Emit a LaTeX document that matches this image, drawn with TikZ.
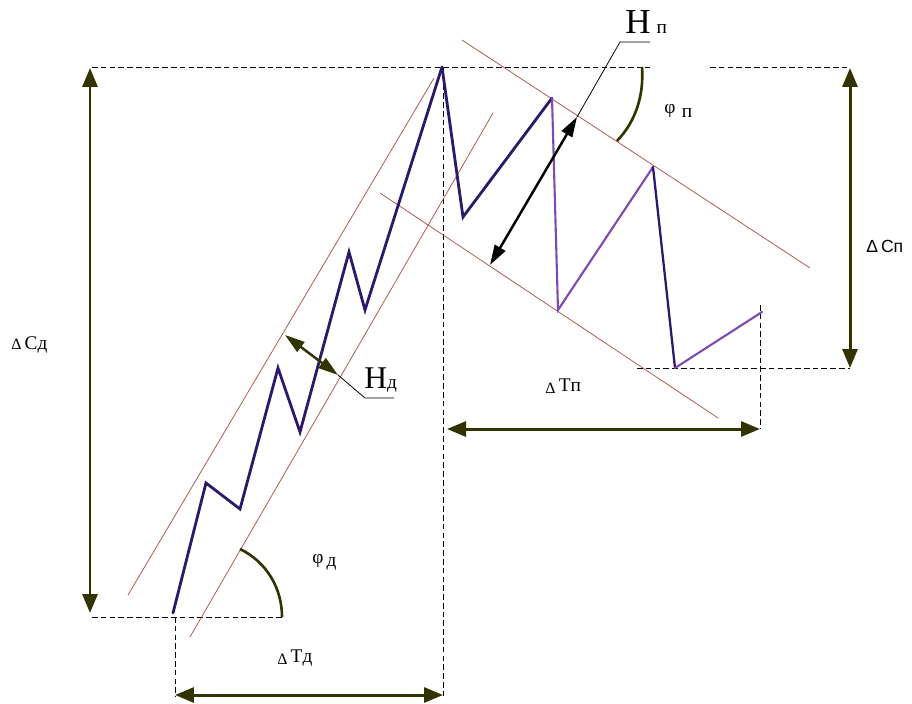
\documentclass[tikz,border=0pt]{standalone}
\usepackage{fontspec}
\setmainfont{Liberation Serif}
\newfontfamily\sanslbl{Liberation Sans}
\usetikzlibrary{arrows.meta}

\definecolor{dimcol}{RGB}{51,51,0}
\definecolor{chancol}{RGB}{175,90,80}
\definecolor{zigdark}{RGB}{45,25,105}
\definecolor{ziglight}{RGB}{125,75,175}

\newcommand{\lblsize}[1]{\fontsize{#1}{#1}\selectfont}

\begin{document}
\begin{tikzpicture}[
    x=0.02cm, y=-0.02cm,
    dimarrow/.style = {{Triangle[length=0.38cm,width=0.3cm]}-{Triangle[length=0.38cm,width=0.3cm]},
                       draw=dimcol, line width=1.7pt},
    harrow/.style   = {{Triangle[length=0.4cm,width=0.24cm]}-{Triangle[length=0.4cm,width=0.24cm]},
                       line width=1.4pt},
    guide/.style    = {dash pattern=on 3.2pt off 1.8pt, line width=0.5pt},
    chan/.style     = {draw=chancol, line width=0.45pt},
    zig/.style      = {line width=1.6pt, line join=miter, line cap=round},
    anglearc/.style = {draw=dimcol, line width=1.5pt},
    leader/.style   = {line width=0.45pt},
    lbl/.style      = {inner sep=0pt, font=\lblsize{11}},
]
\useasboundingbox (0,0) rectangle (912,703);

% key points
\coordinate (start) at (173,613);
\coordinate (peak)  at (442,67);
\coordinate (endp)  at (762,312);

% guide lines
\draw[guide] (92,67) -- (650,67);
\draw[guide] (710,67) -- (850,67);
\draw[guide] (92,617) -- (282,617);
\draw[guide] (443,67) -- (443,697);
\draw[guide] (175,617) -- (175,697);
\draw[guide] (760,305) -- (760,429);
\draw[guide] (637,368) -- (850,368);

% channels
\draw[chan] (128,595) -- (434,78);
\draw[chan] (190,637) -- (493,113);
\draw[chan] (462,40)  -- (810,268);
\draw[chan] (380,193) -- (718,418);

% zigzags
\draw[zig, zigdark] (start) -- (206,483) -- (240,509) -- (278,368) -- (300,432)
                    -- (349,252) -- (365,310) -- (peak);
\draw[zig, zigdark] (peak) -- (463,217) -- (552,98);
\draw[zig, ziglight, line width=1.2pt] (552,98) -- (558,310) -- (653,167);
\draw[zig, zigdark, line width=1.3pt] (653,167) -- (675,368);
\draw[zig, ziglight, line width=1.2pt] (675,368) -- (endp);

% dimensions
\coordinate (cdtop) at (90,68);
\coordinate (cdbot) at (90,613);
\coordinate (cptop) at (850,68);
\coordinate (cpbot) at (850,368);
\coordinate (tdl) at (175,695);
\coordinate (tdr) at (443,695);
\coordinate (tpl) at (447,429);
\coordinate (tpr) at (760,429);
\draw[dimarrow] (cdtop) -- (cdbot);
\draw[dimarrow] (cptop) -- (cpbot);
\draw[dimarrow] (tdl) -- (tdr);
\draw[dimarrow] (tpl) -- (tpr);

% channel widths
\coordinate (hpa) at (490,265);
\coordinate (hpb) at (577,117);
\coordinate (hda) at (285,335);
\coordinate (hdb) at (338,375);
\draw[harrow] (hpa) -- (hpb);
\draw[harrow, draw=dimcol] (hda) -- (hdb);
\draw[leader] (hpb) -- (620,42) -- (650,42);
\draw[leader] (hdb) -- (365,398) -- (394,398);

% angles
\draw[anglearc] (642,67) .. controls (644,95) and (636,121) .. (617,141);
\draw[anglearc] (282,617) .. controls (282,588.4) and (266.8,562) .. (240,549);

% labels
\node[lbl, anchor=base west] (hplbl) at (625,33) {\lblsize{20}H\,\lblsize{11}п};
\node[lbl, anchor=base west] (hdlbl) at (364,388) {\lblsize{18}H\lblsize{11}д};
\node[lbl, anchor=base west] (fplbl) at (664,113) {φ\,\,\raisebox{-0.5ex}{п}};
\node[lbl, anchor=base west] (fdlbl) at (312,563) {φ\,\raisebox{-0.4ex}{д}};
\node[lbl, anchor=base west] (cdlbl) at (11,349) {{\lblsize{9}Δ}\,Cд};
\node[lbl, anchor=base west, font=\sanslbl\lblsize{10}] (cplbl) at (866,252) {Δ\,Cп};
\node[lbl, anchor=base west] (tplbl) at (545,391) {{\lblsize{9}\raisebox{-0.4ex}{Δ}}\,Tп};
\node[lbl, anchor=base west] (tdlbl) at (277,662) {{\lblsize{9}\raisebox{-0.4ex}{Δ}}\,Tд};

\end{tikzpicture}
\end{document}
